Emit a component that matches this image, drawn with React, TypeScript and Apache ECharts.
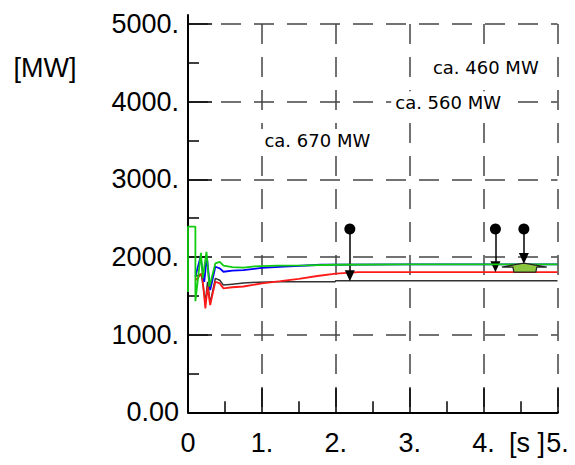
import React, { useEffect, useRef } from "react";
import * as echarts from "echarts";

// Axis ticks (seconds / MW)
const xTicks = [0, 1, 2, 3, 4, 5];
const yTicks = [0, 1000, 2000, 3000, 4000, 5000];

// Axis lines run slightly past the last tick
const xAxisEnd = 5.14;
const yAxisEnd = 5125;

// Series (time [s], power [MW])
const greenT = [0, 0, 0.1, 0.1, 0.175, 0.2, 0.25, 0.29, 0.37, 0.43, 0.48, 0.6, 0.75, 0.9, 1.2, 1.6, 2.0, 3.0, 5.0];
const greenV = [1550, 2390, 2390, 1430, 2054, 1728, 2067, 1617, 1917, 1938, 1890, 1870, 1862, 1878, 1888, 1893, 1900, 1905, 1905];

const blueT = [0.1, 0.17, 0.22, 0.255, 0.3, 0.37, 0.43, 0.48, 0.6, 0.75, 1.0, 1.3, 1.6, 1.8, 3.0, 5.0];
const blueV = [1750, 2003, 1680, 2010, 1574, 1874, 1853, 1810, 1825, 1832, 1860, 1875, 1890, 1900, 1904, 1904];

const redT = [0.1, 0.19, 0.235, 0.265, 0.3, 0.37, 0.43, 0.48, 0.6, 0.75, 1.0, 1.25, 1.5, 1.75, 2.0, 2.3, 3.0, 5.0];
const redV = [1700, 1789, 1338, 1617, 1380, 1681, 1660, 1596, 1610, 1620, 1660, 1688, 1718, 1755, 1785, 1805, 1805, 1805];

const blackT = [0.1, 0.18, 0.235, 0.265, 0.3, 0.37, 0.43, 0.48, 0.6, 0.75, 0.95, 1.2, 1.99, 2.0, 3.0, 5.0];
const blackV = [1750, 1780, 1423, 1680, 1406, 1724, 1700, 1638, 1650, 1664, 1675, 1681, 1681, 1693, 1693, 1693];

// Arrows: time, top (ball) and arrow-head centre
const arrowT = [2.19, 4.16, 4.545];
const arrowTop = [2360, 2360, 2360];
const arrowHead = [1758, 1874, 1982];

// Green marker shape (time, MW)
const houseT = [4.247, 4.545, 4.855, 4.72, 4.707, 4.41, 4.396];
const houseV = [1870, 1922, 1870, 1870, 1806, 1806, 1870];

// Annotations
const noteText = ["ca. 460 MW", "ca. 560 MW", "ca. 670 MW"];
const noteT = [4.03, 3.52, 1.75];
const noteV = [4444, 3994, 3505];

const pairs = (t: number[], v: number[]) => t.map((x, i) => [x, v[i]]);

const TICK_FONT = "Liberation Sans, Arial, sans-serif";

export default function App() {
  const ref = useRef<HTMLDivElement>(null);
  useEffect(() => {
    document.body.style.margin = "0";
    if (!ref.current) return;
    const chart = echarts.init(ref.current, undefined, { renderer: "svg" });
    const splitStyle = { color: "#444", width: 1.5, type: [20, 13] as any };
    const axisCommon = {
      axisLine: { show: true, onZero: false, lineStyle: { color: "#000", width: 2 } },
      axisTick: { show: true, inside: true, length: 24, lineStyle: { color: "#000", width: 1.5 } },
      minorTick: { show: true, splitNumber: 2, length: 11, lineStyle: { color: "#000", width: 1.5 } },
      splitLine: { show: true, lineStyle: splitStyle },
    };
    chart.setOption({
      animation: false,
      grid: { left: 188, right: 17.5, top: 24, bottom: 52.7, containLabel: false },
      xAxis: {
        type: "value",
        min: xTicks[0],
        max: xTicks[xTicks.length - 1],
        interval: 1,
        ...axisCommon,
        axisLabel: {
          color: "#000",
          fontFamily: TICK_FONT,
          fontSize: 27,
          margin: 17,
          formatter: (v: number) => (v === 0 ? "0" : v + "."),
        },
      },
      yAxis: {
        type: "value",
        min: yTicks[0],
        max: yTicks[yTicks.length - 1],
        interval: 1000,
        ...axisCommon,
        axisLabel: {
          color: "#000",
          fontFamily: TICK_FONT,
          fontSize: 27,
          margin: 9,
          formatter: (v: number) => (v === 0 ? "0.00" : v + "."),
        },
      },
      graphic: [
        {
          type: "text",
          x: 45,
          y: 68,
          style: { text: "[MW]", font: `27px ${TICK_FONT}`, fill: "#000", align: "center", verticalAlign: "middle" },
        },
        {
          type: "text",
          x: 527,
          y: 443,
          style: { text: "[s ]", font: `27px ${TICK_FONT}`, fill: "#000", align: "center", verticalAlign: "middle" },
        },
      ],
      series: [
        {
          type: "line",
          data: [[xTicks[0], yTicks[yTicks.length - 1]], [xTicks[0], yAxisEnd]],
          showSymbol: false,
          clip: false,
          silent: true,
          lineStyle: { color: "#000", width: 2 },
          z: 1,
        },
        {
          type: "line",
          data: [[xTicks[xTicks.length - 1], yTicks[0]], [xAxisEnd, yTicks[0]]],
          showSymbol: false,
          clip: false,
          silent: true,
          lineStyle: { color: "#000", width: 2 },
          z: 1,
        },
        {
          type: "line",
          data: pairs(blackT, blackV),
          showSymbol: false,
          lineStyle: { color: "#333", width: 1.5 },
          z: 2,
        },
        {
          type: "line",
          data: pairs(redT, redV),
          showSymbol: false,
          lineStyle: { color: "#ff1a1a", width: 1.8 },
          z: 3,
        },
        {
          type: "line",
          data: pairs(blueT, blueV),
          showSymbol: false,
          lineStyle: { color: "#0000ff", width: 1.8 },
          z: 4,
        },
        {
          type: "line",
          data: pairs(greenT, greenV),
          showSymbol: false,
          lineStyle: { color: "#11cc11", width: 1.8 },
          z: 5,
        },
        {
          type: "custom",
          data: pairs(houseT, houseV),
          z: 6,
          renderItem: (params: any, api: any) => {
            if (params.dataIndex !== 0) return null;
            const pts = houseT.map((t, i) => api.coord([t, houseV[i]]));
            return {
              type: "polygon",
              shape: { points: pts },
              style: { fill: "#8cc63f", stroke: "#222", lineWidth: 1.2 },
            };
          },
        },
        {
          type: "line",
          data: [],
          z: 7,
          markLine: {
            silent: true,
            animation: false,
            label: { show: false },
            emphasis: { disabled: true },
            lineStyle: { color: "#000", width: 1.5, type: "solid" },
            data: arrowT.map((t, i) => [
              { coord: [t, arrowTop[i]], symbol: "circle", symbolSize: 11 },
              { coord: [t, arrowHead[i]], symbol: "triangle", symbolSize: [10, 11] },
            ]),
          },
        },
        {
          type: "scatter",
          data: noteT.map((t, i) => [t, noteV[i]]),
          symbolSize: 0,
          itemStyle: { opacity: 1, color: "#000" },
          z: 8,
          label: {
            show: true,
            position: "inside",
            color: "#000",
            opacity: 1,
            textBorderWidth: 0,
            backgroundColor: "#fff",
            padding: [2, 4],
            fontFamily: "DejaVu Sans, Verdana, sans-serif",
            fontSize: 18,
            formatter: (p: any) => noteText[p.dataIndex],
          },
        },
      ],
    });
    return () => chart.dispose();
  }, []);
  return <div ref={ref} style={{ width: 575, height: 465 }} />;
}
